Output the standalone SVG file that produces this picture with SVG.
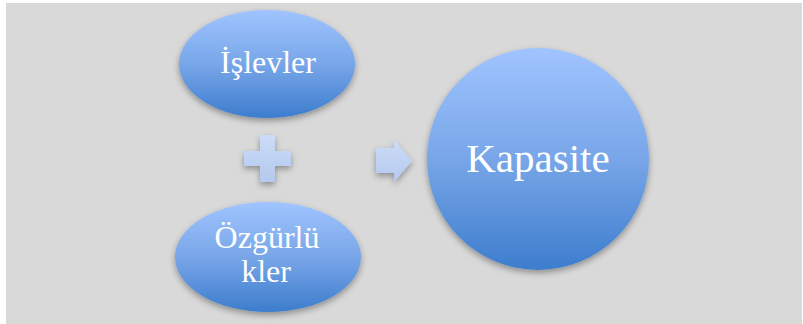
<svg xmlns="http://www.w3.org/2000/svg" width="803" height="324" viewBox="0 0 803 324">
<defs>
<linearGradient id="blue" x1="0" y1="0" x2="0" y2="1">
<stop offset="0" stop-color="#a0c4ff"/>
<stop offset="0.5" stop-color="#78a6e8"/>
<stop offset="1" stop-color="#3d7dcd"/>
</linearGradient>
<linearGradient id="pale" x1="0" y1="0" x2="0" y2="1">
<stop offset="0" stop-color="#ccdcf8"/>
<stop offset="1" stop-color="#b5c9ee"/>
</linearGradient>
<filter id="sh" x="-20%" y="-20%" width="140%" height="150%">
<feDropShadow dx="0" dy="3" stdDeviation="3" flood-color="#000" flood-opacity="0.35"/>
</filter>
</defs>
<style>
.node{fill:url(#blue);filter:url(#sh)}
.sym{fill:url(#pale);filter:url(#sh)}
.t{font-family:"Liberation Serif","DejaVu Serif",serif;fill:#fff;text-anchor:middle}
</style>
<rect x="0" y="0" width="803" height="324" fill="#ffffff"/>
<rect x="6" y="3" width="796" height="321" fill="#d9d9d9"/>
<g id="islevler">
<ellipse class="node" cx="267" cy="64" rx="88" ry="54"/>
<text class="t" x="268" y="73" font-size="32">İşlevler</text>
</g>
<g id="ozgurlukler">
<ellipse class="node" cx="268" cy="257" rx="93" ry="55"/>
<text class="t" x="267" y="248" font-size="32">Özgürlü</text>
<text class="t" x="266" y="282" font-size="32">kler</text>
</g>
<g id="kapasite">
<circle class="node" cx="538" cy="159" r="111"/>
<text class="t" x="538" y="172" font-size="41">Kapasite</text>
</g>
<g id="connectors">
<path class="sym" d="M260 135H275V151H291V166H275V182H260V166H244V151H260Z"/>
<path class="sym" d="M376 148H394V140L412 161L394 182V173H376Z"/>
</g>
</svg>
